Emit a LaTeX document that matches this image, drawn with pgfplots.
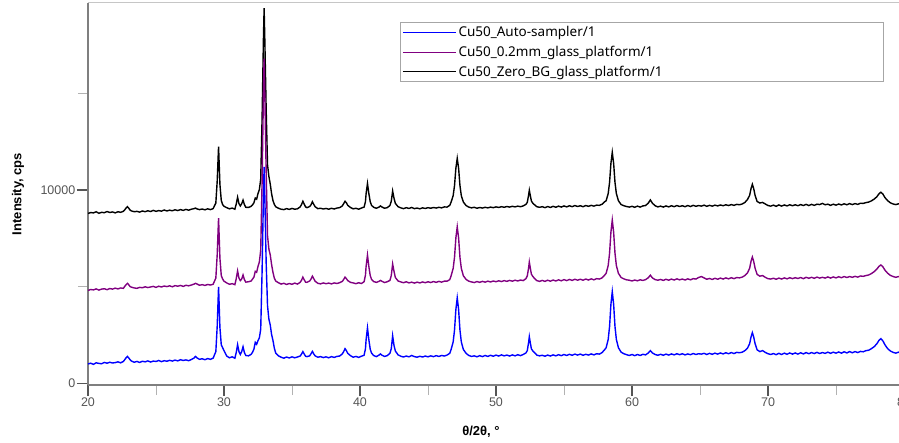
\documentclass[border=0pt]{standalone}
\usepackage{pgfplots}
\pgfplotsset{compat=1.18}
\usepackage{pgfplotstable}
\usepackage{fontspec}
\setmainfont{Liberation Sans}
\newfontfamily\legfont{Noto Sans}
\definecolor{tickgray}{HTML}{555555}
\definecolor{axgray}{HTML}{7F7F7F}
\definecolor{mypurple}{HTML}{800080}
\pgfplotstableread{
x b p k
20.0 1010 4810 8790
20.2 1050 4860 8840
20.4 990 4840 8820
20.6 1070 4890 8880
20.8 1040 4830 8800
21.0 1020 4880 8850
21.2 1090 4900 8830
21.4 1050 4850 8890
21.6 1100 4910 8840
21.8 1060 4880 8870
22.0 1080 4930 8820
22.2 1120 4890 8880
22.4 1070 4940 8850
22.6 1140 4920 8900
22.7 1230 5020 8980
22.8 1330 5110 9070
22.9 1400 5180 9140
23.0 1320 5100 9060
23.1 1220 5010 8960
23.2 1160 4980 8920
23.4 1100 4940 8880
23.6 1140 4920 8900
23.8 1090 4970 8860
24.0 1150 4950 8920
24.2 1120 5000 8880
24.4 1170 4960 8930
24.6 1110 4990 8890
24.8 1160 5020 8950
25.0 1140 4970 8900
25.2 1190 5030 8940
25.4 1130 4990 8910
25.6 1180 5040 8970
25.8 1150 5010 8920
26.0 1200 5050 8960
26.2 1160 5000 8930
26.4 1210 5060 8980
26.6 1170 5030 8940
26.8 1230 5070 8990
27.0 1190 5020 8950
27.2 1220 5080 9000
27.4 1180 5050 8960
27.6 1240 5090 9010
27.8 1320 5140 9040
27.9 1400 5180 9070
28.0 1330 5150 9030
28.2 1250 5080 8990
28.4 1280 5110 9020
28.6 1230 5070 8980
28.8 1290 5120 9030
29.0 1250 5090 8990
29.2 1310 5130 9040
29.4 1650 5450 9330
29.5 2950 6650 10460
29.6 5000 8550 12250
29.7 2900 6480 10300
29.8 2000 5580 9460
29.9 1850 5400 9250
30.0 1700 5290 9160
30.2 1420 5200 9090
30.4 1330 5130 9030
30.6 1380 5160 9070
30.8 1310 5110 9010
30.9 1600 5420 9280
31.0 2010 5820 9630
31.1 1650 5450 9300
31.2 1500 5320 9180
31.3 1650 5400 9290
31.4 1900 5610 9480
31.5 1600 5370 9250
31.6 1450 5240 9110
31.8 1430 5260 9100
32.0 1510 5300 9160
32.1 1620 5400 9240
32.2 1780 5500 9340
32.3 2130 5800 9590
32.4 2030 5750 9530
32.5 2220 6050 9820
32.6 2360 6280 10020
32.7 2810 6900 10570
32.8 5770 10390 13680
32.9 9720 15050 17830
32.95 11200 16800 19400
33.0 9720 15050 17830
33.1 6260 10980 14200
33.2 4030 7650 11310
33.3 3330 6950 10710
33.4 3030 6650 10310
33.5 2530 6150 9810
33.6 2230 5750 9460
33.7 1830 5450 9260
33.8 1580 5300 9140
34.0 1430 5210 9060
34.2 1360 5140 9010
34.4 1310 5180 8990
34.6 1370 5120 9040
34.8 1320 5170 9000
35.0 1380 5130 9050
35.2 1330 5190 9010
35.4 1370 5140 9030
35.6 1420 5230 9130
35.7 1520 5340 9250
35.8 1650 5500 9420
35.9 1520 5360 9270
36.0 1410 5240 9130
36.1 1390 5230 9090
36.3 1430 5300 9150
36.4 1540 5400 9240
36.5 1660 5550 9400
36.6 1530 5420 9260
36.7 1430 5290 9140
36.9 1360 5180 9040
37.1 1390 5150 9060
37.3 1340 5200 9020
37.5 1380 5160 9050
37.7 1330 5190 9010
37.9 1390 5150 9060
38.1 1350 5200 9020
38.3 1400 5170 9070
38.5 1420 5210 9090
38.7 1530 5280 9180
38.8 1650 5380 9300
38.9 1800 5500 9420
39.0 1700 5420 9340
39.1 1560 5320 9210
39.3 1440 5230 9100
39.5 1360 5200 9030
39.7 1400 5160 9060
39.9 1350 5210 9010
40.1 1410 5170 9070
40.3 1460 5260 9120
40.4 1790 5600 9400
40.45 2270 6060 9820
40.55 2880 6640 10340
40.65 2270 6050 9820
40.75 1780 5590 9400
40.85 1570 5380 9210
41.0 1450 5270 9110
41.2 1390 5230 9060
41.4 1470 5280 9120
41.5 1530 5330 9180
41.6 1470 5290 9130
41.8 1400 5220 9060
42.0 1440 5260 9090
42.2 1560 5330 9200
42.3 1800 5580 9420
42.4 2470 6180 9950
42.5 1970 5800 9580
42.6 1680 5480 9310
42.8 1480 5300 9140
43.0 1410 5250 9080
43.2 1370 5210 9040
43.4 1420 5260 9090
43.6 1380 5200 9050
43.8 1450 5240 9100
44.0 1390 5190 9040
44.2 1360 5240 9070
44.4 1410 5200 9030
44.6 1370 5250 9080
44.8 1420 5210 9050
45.0 1380 5260 9090
45.2 1430 5220 9060
45.4 1390 5270 9100
45.6 1440 5230 9070
45.8 1400 5280 9110
46.0 1450 5240 9080
46.2 1420 5290 9130
46.4 1470 5290 9120
46.6 1560 5370 9210
46.7 1760 5570 9380
46.85 2150 5950 9710
46.95 2760 6520 10230
47.05 3830 7530 11130
47.15 4430 8100 11640
47.25 3830 7530 11130
47.35 2760 6520 10230
47.45 2150 5950 9710
47.6 1760 5570 9380
47.8 1560 5380 9200
48.0 1450 5290 9120
48.2 1400 5250 9080
48.4 1430 5220 9110
48.6 1380 5270 9060
48.8 1440 5230 9100
49.0 1390 5280 9070
49.2 1450 5240 9110
49.4 1400 5290 9080
49.6 1460 5250 9120
49.8 1410 5300 9090
50.0 1470 5260 9130
50.2 1420 5310 9100
50.4 1480 5270 9140
50.6 1430 5320 9110
50.8 1470 5280 9150
51.0 1420 5330 9120
51.2 1480 5290 9160
51.4 1430 5340 9130
51.6 1490 5300 9170
51.8 1440 5350 9140
52.0 1500 5320 9180
52.2 1580 5420 9260
52.3 1700 5560 9360
52.4 2130 5990 9750
52.45 2420 6280 9990
52.5 2200 6060 9800
52.6 1800 5660 9440
52.7 1690 5540 9330
52.8 1620 5460 9260
53.0 1470 5320 9140
53.2 1430 5280 9110
53.4 1460 5330 9140
53.6 1410 5280 9090
53.8 1470 5340 9150
54.0 1420 5290 9100
54.2 1480 5350 9160
54.4 1430 5300 9110
54.6 1490 5360 9170
54.8 1440 5310 9120
55.0 1500 5370 9180
55.2 1450 5320 9130
55.4 1510 5380 9190
55.6 1460 5330 9140
55.8 1520 5390 9200
56.0 1470 5340 9150
56.2 1520 5390 9190
56.4 1460 5340 9140
56.6 1510 5400 9200
56.8 1470 5350 9160
57.0 1530 5410 9210
57.2 1480 5360 9170
57.4 1540 5420 9220
57.6 1520 5400 9210
57.8 1600 5460 9270
58.0 1760 5610 9400
58.1 1850 5700 9450
58.25 2280 6100 9820
58.35 2940 6730 10390
58.45 4090 7820 11380
58.55 4750 8450 11950
58.65 4090 7820 11380
58.75 2940 6730 10390
58.85 2280 6100 9820
59.0 1850 5700 9450
59.2 1620 5480 9250
59.4 1540 5410 9190
59.6 1490 5360 9150
59.8 1450 5340 9120
60.0 1500 5300 9160
60.2 1440 5350 9110
60.4 1500 5310 9170
60.6 1450 5360 9120
60.8 1510 5330 9180
61.0 1480 5370 9200
61.2 1580 5470 9330
61.35 1700 5600 9490
61.5 1580 5460 9320
61.7 1500 5370 9190
61.9 1460 5340 9130
62.1 1510 5380 9170
62.3 1460 5330 9120
62.5 1520 5390 9180
62.7 1470 5340 9130
62.9 1530 5400 9190
63.1 1480 5350 9140
63.3 1540 5410 9200
63.5 1490 5360 9150
63.7 1540 5400 9190
63.9 1480 5350 9140
64.1 1530 5410 9200
64.3 1490 5360 9150
64.5 1550 5420 9210
64.7 1500 5400 9160
64.9 1540 5480 9200
65.1 1520 5530 9170
65.3 1560 5460 9220
65.5 1500 5390 9160
65.7 1560 5430 9210
65.9 1510 5380 9170
66.1 1570 5440 9220
66.3 1520 5390 9180
66.5 1580 5450 9230
66.7 1530 5400 9190
66.9 1590 5460 9240
67.1 1540 5410 9200
67.3 1600 5470 9250
67.5 1550 5420 9210
67.7 1610 5480 9260
67.9 1590 5460 9240
68.1 1620 5500 9280
68.3 1700 5580 9360
68.5 1840 5730 9520
68.65 2060 5960 9730
68.75 2400 6310 10070
68.85 2630 6540 10300
68.95 2400 6310 10070
69.05 2060 5960 9730
69.2 1740 5640 9410
69.4 1650 5550 9330
69.6 1700 5580 9360
69.8 1610 5490 9280
70.0 1540 5420 9200
70.2 1500 5400 9170
70.4 1550 5440 9220
70.6 1490 5390 9160
70.8 1560 5450 9230
71.0 1500 5400 9170
71.2 1570 5460 9230
71.4 1510 5410 9180
71.6 1580 5470 9240
71.8 1520 5420 9190
72.0 1580 5470 9240
72.2 1520 5430 9190
72.4 1590 5480 9250
72.6 1530 5420 9200
72.8 1600 5490 9260
73.0 1540 5440 9200
73.2 1600 5490 9260
73.4 1550 5440 9210
73.6 1610 5500 9270
73.8 1550 5450 9250
74.0 1600 5490 9310
74.2 1560 5450 9240
74.4 1620 5510 9270
74.6 1560 5450 9210
74.8 1620 5510 9270
75.0 1570 5460 9220
75.2 1630 5520 9280
75.4 1570 5470 9230
75.6 1640 5530 9290
75.8 1580 5480 9240
76.0 1650 5530 9300
76.2 1590 5490 9250
76.4 1650 5540 9300
76.6 1600 5500 9260
76.8 1660 5560 9320
77.0 1640 5540 9310
77.2 1700 5580 9350
77.4 1720 5610 9380
77.6 1800 5680 9440
77.8 1900 5780 9530
78.0 2050 5910 9650
78.15 2220 6050 9800
78.3 2320 6130 9890
78.45 2200 6030 9790
78.6 2000 5860 9610
78.8 1800 5700 9450
79.0 1680 5590 9340
79.2 1610 5530 9280
79.4 1570 5490 9250
79.6 1620 5530 9290
79.8 1570 5480 9240
80.0 1610 5520 9280
}\xrd
\begin{document}
\begin{tikzpicture}
\begin{axis}[
  scale only axis,
  width=816pt, height=382pt,
  xmin=20, xmax=80, ymin=-77, ymax=19670,
  axis x line*=bottom, axis y line*=left,
  axis line style={axgray, line width=1.6pt},
  xtick={20,30,...,80}, minor xtick={25,35,...,75},
  ytick={0,10000}, minor ytick={5000,15000},
  scaled y ticks=false, scaled x ticks=false,
  tick align=outside,
  major tick length=11pt, minor tick length=10pt,
  every major tick/.style={tickgray, line width=1.3pt},
  every minor tick/.style={gray!60, line width=1pt},
  /pgf/number format/1000 sep={},
  /pgf/number format/assume math mode=true,
  ticklabel style={font=\fontsize{12.5}{14}\selectfont, text=tickgray},
  xticklabel style={inner sep=1pt, yshift=-1pt},
  yticklabel style={inner sep=1.5pt},
  xlabel={\textbf{θ/2θ, °}},
  ylabel={\textbf{Intensity, cps}},
  label style={font=\fontsize{13}{15}\selectfont},
  xlabel style={at={(axis description cs:0.4816,-0.123)}, anchor=center},
  ylabel style={at={(axis description cs:-0.0858,0.5)}, anchor=center},
  legend style={at={(axis description cs:0.3824,0.9503)}, anchor=north west,
    draw=gray!70, line width=0.8pt, font=\legfont\fontsize{13.5}{16}\selectfont,
    inner xsep=2pt, inner ysep=2pt, row sep=4pt,
    nodes={inner sep=2pt}},
  legend cell align=left,
  reverse legend,
  legend image code/.code={\draw[#1, line width=1.1pt] (0pt,0pt) -- (53pt,0pt);},
]
\addplot[black, line width=1.4pt] table[x=x, y=k] {\xrd};
\addlegendentry{\makebox[421pt][l]{Cu50\_Zero\_BG\_glass\_platform/1}}
\addplot[mypurple, line width=1.4pt] table[x=x, y=p] {\xrd};
\addlegendentry{\makebox[421pt][l]{Cu50\_0.2mm\_glass\_platform/1}}
\addplot[blue, line width=1.4pt] table[x=x, y=b] {\xrd};
\addlegendentry{\makebox[421pt][l]{Cu50\_Auto-sampler/1}}
\draw[gray!45, line width=1pt] (rel axis cs:0,1) -- (rel axis cs:1,1);
\end{axis}
\pgfresetboundingbox
\useasboundingbox (-88pt,-57pt) rectangle (811pt,385pt);
\end{tikzpicture}
\end{document}
